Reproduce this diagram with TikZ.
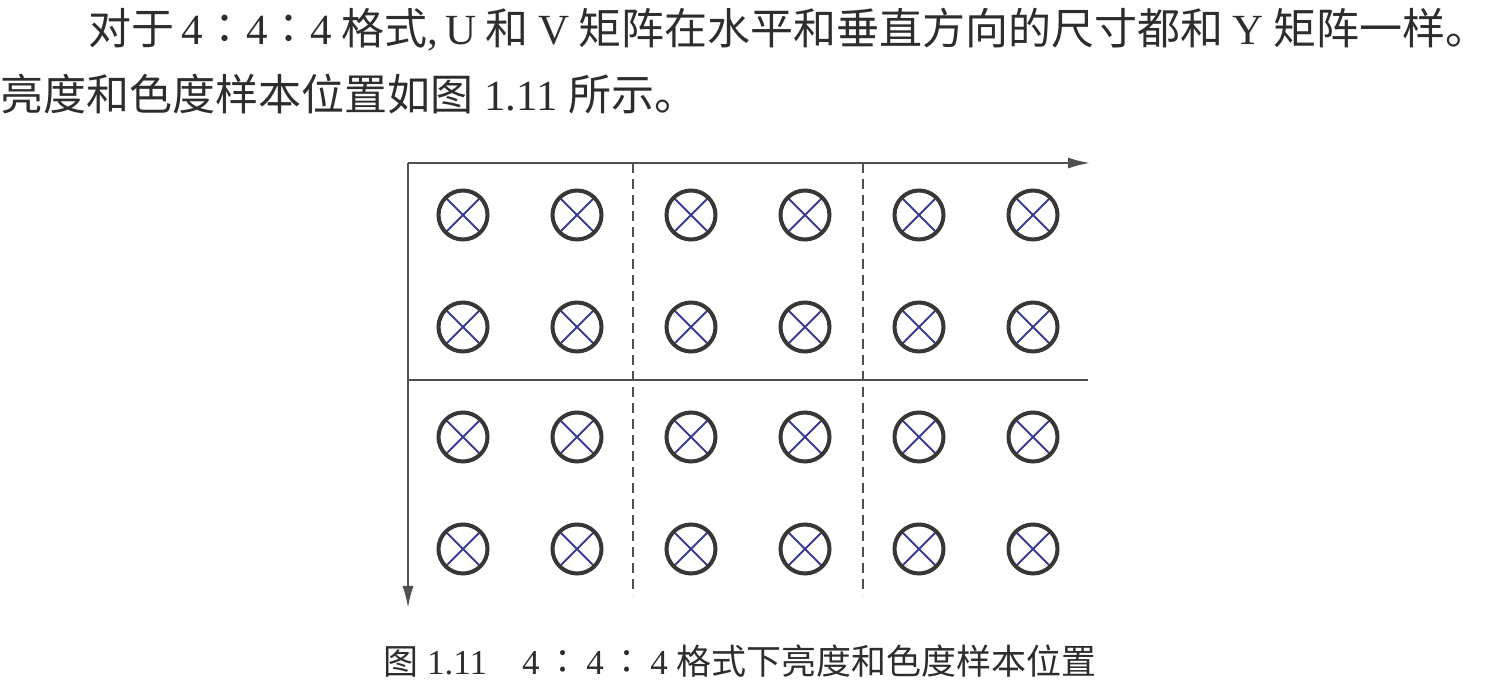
\documentclass[tikz,border=0pt]{standalone}
\usepackage{fontspec}
\setmainfont{Liberation Serif}
\newfontfamily\zh{Noto Sans CJK SC}
\usetikzlibrary{arrows.meta}
\definecolor{axisgray}{RGB}{80,80,80}
\definecolor{ringgray}{RGB}{55,55,55}
\definecolor{crossblue}{RGB}{60,60,150}
\definecolor{textgray}{RGB}{45,45,45}

\begin{document}
\begin{tikzpicture}[x=0.5pt,y=-0.5pt,
    axis/.style={axisgray,line width=1pt,-{Latex[length=11pt,width=5.5pt]}},
    split/.style={axisgray,line width=0.75pt,dash pattern=on 5pt off 3pt},
    sample/.style={circle,draw=ringgray,line width=2pt,minimum size=24.5pt,inner sep=0pt,
        path picture={\draw[crossblue,line width=1pt]
            (path picture bounding box.north west) -- (path picture bounding box.south east)
            (path picture bounding box.north east) -- (path picture bounding box.south west);}},
    body/.style={anchor=west,inner sep=0pt,text=textgray,font=\fontsize{21.5}{25}\selectfont}]
    \useasboundingbox (0,0) rectangle (1505,694);
    % text above the figure
    \node[body] (line1) at (88,30) {\makebox[700pt][s]{{\zh 对于}\,4{\zh ∶}4{\zh ∶}4 {\zh 格式},\,U {\zh 和} V {\zh 矩阵在水平和垂直方向的尺寸都和} Y {\zh 矩阵一样。}}};
    \node[body] (line2) at (0,94) {{\zh 亮度和色度样本位置如图} 1.11 {\zh 所示。}};
    % axes and block borders
    \coordinate (o) at (408,163);
    \coordinate (xend) at (1090,163);
    \coordinate (yend) at (408,608);
    \coordinate (midl) at (408,380);
    \coordinate (midr) at (1088,380);
    \draw[axis] (o) -- (xend);
    \draw[axis] (o) -- (yend);
    \draw[axisgray,line width=1pt] (midl) -- (midr);
    \foreach \x in {633,863}
        \draw[split] (\x,163) -- (\x,595);
    % samples
    \foreach \r [count=\i] in {215,327,437,549}
        \foreach \c [count=\j] in {463,577,691,805,919,1033}
            \node[sample] (s\i\j) at (\c,\r) {};
    % caption
    \node[anchor=west,inner sep=0pt,text=textgray,font=\fontsize{17.5}{20}\selectfont] (cap) at (383,661) {{\zh 图} 1.11\quad 4\,{\zh ∶}\,4\,{\zh ∶}\,4 {\zh 格式下亮度和色度样本位置}};
\end{tikzpicture}
\end{document}
